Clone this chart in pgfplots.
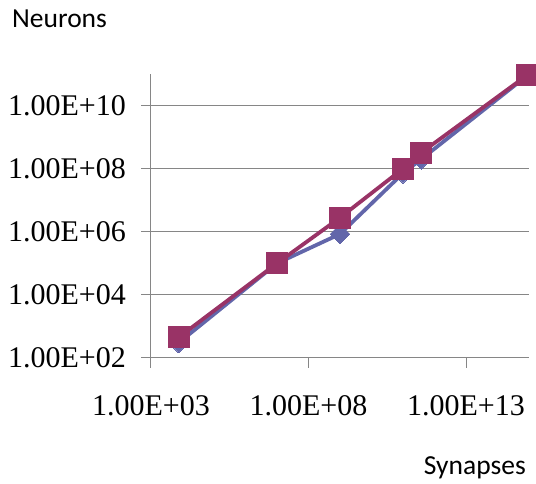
\documentclass[border=0pt]{standalone}
\usepackage{fontspec}
\setmainfont{Liberation Serif}
\newfontfamily\calfont{Carlito}
\usepackage{pgfplots}
\pgfplotsset{compat=1.18}
\definecolor{serA}{RGB}{98,102,170}
\definecolor{serB}{RGB}{153,51,102}
\definecolor{gridc}{RGB}{134,134,134}
\begin{document}
\begin{tikzpicture}[x=1pt,y=1pt]
\useasboundingbox (-151,-126) rectangle (385,358);
\begin{axis}[at={(0,0)},anchor=south west,scale only axis,
  width=378pt,height=284pt,
  xmode=log,ymode=log,xmin=1e3,xmax=1e15,ymin=1e2,ymax=1e11,
  axis x line*=bottom,axis y line*=left,
  axis line style={gridc,line width=1pt,-},
  xtick={1e3,1e8,1e13},xticklabels={1.00E+03,1.00E+08,1.00E+13},
  ytick={1e2,1e4,1e6,1e8,1e10},
  yticklabels={1.00E+02,1.00E+04,1.00E+06,1.00E+08,1.00E+10},
  xminorticks=false,yminorticks=false,
  tick align=outside,major tick length=10pt,
  tick style={gridc,line width=1pt},
  ymajorgrids,grid style={gridc,line width=1pt},
  tick label style={font=\fontsize{30}{36}\selectfont,inner sep=0pt},
  xticklabel style={yshift=-27pt},
  yticklabel style={xshift=-15pt},
  clip=false,
]
\addplot[serA,line width=3.8pt,mark=square*,mark size=7pt,
  mark options={rotate=45,solid,fill=serA,draw=serA,line width=0pt}]
  coordinates {(7500,302) (1e7,1e5) (1e9,8.5e5) (1e11,7.2e7) (3.8e11,2e8) (8.5e14,8.7e10)};
\addplot[serB,line width=3.8pt,mark=square*,mark size=10.5pt,
  mark options={solid,fill=serB,draw=serB,line width=0pt}]
  coordinates {(7500,450) (1e7,1e5) (1e9,2.8e6) (1e11,1e8) (3.8e11,3.2e8) (8.5e14,9e10)};
\end{axis}
\node[anchor=base west,font=\calfont\fontsize{27.5}{32}\selectfont,inner sep=0pt] at (-139,330.7) {Neurons};
\node[anchor=base east,font=\calfont\fontsize{27.5}{32}\selectfont,inner sep=0pt] at (375,-116.5) {Synapses};
\end{tikzpicture}
\end{document}
